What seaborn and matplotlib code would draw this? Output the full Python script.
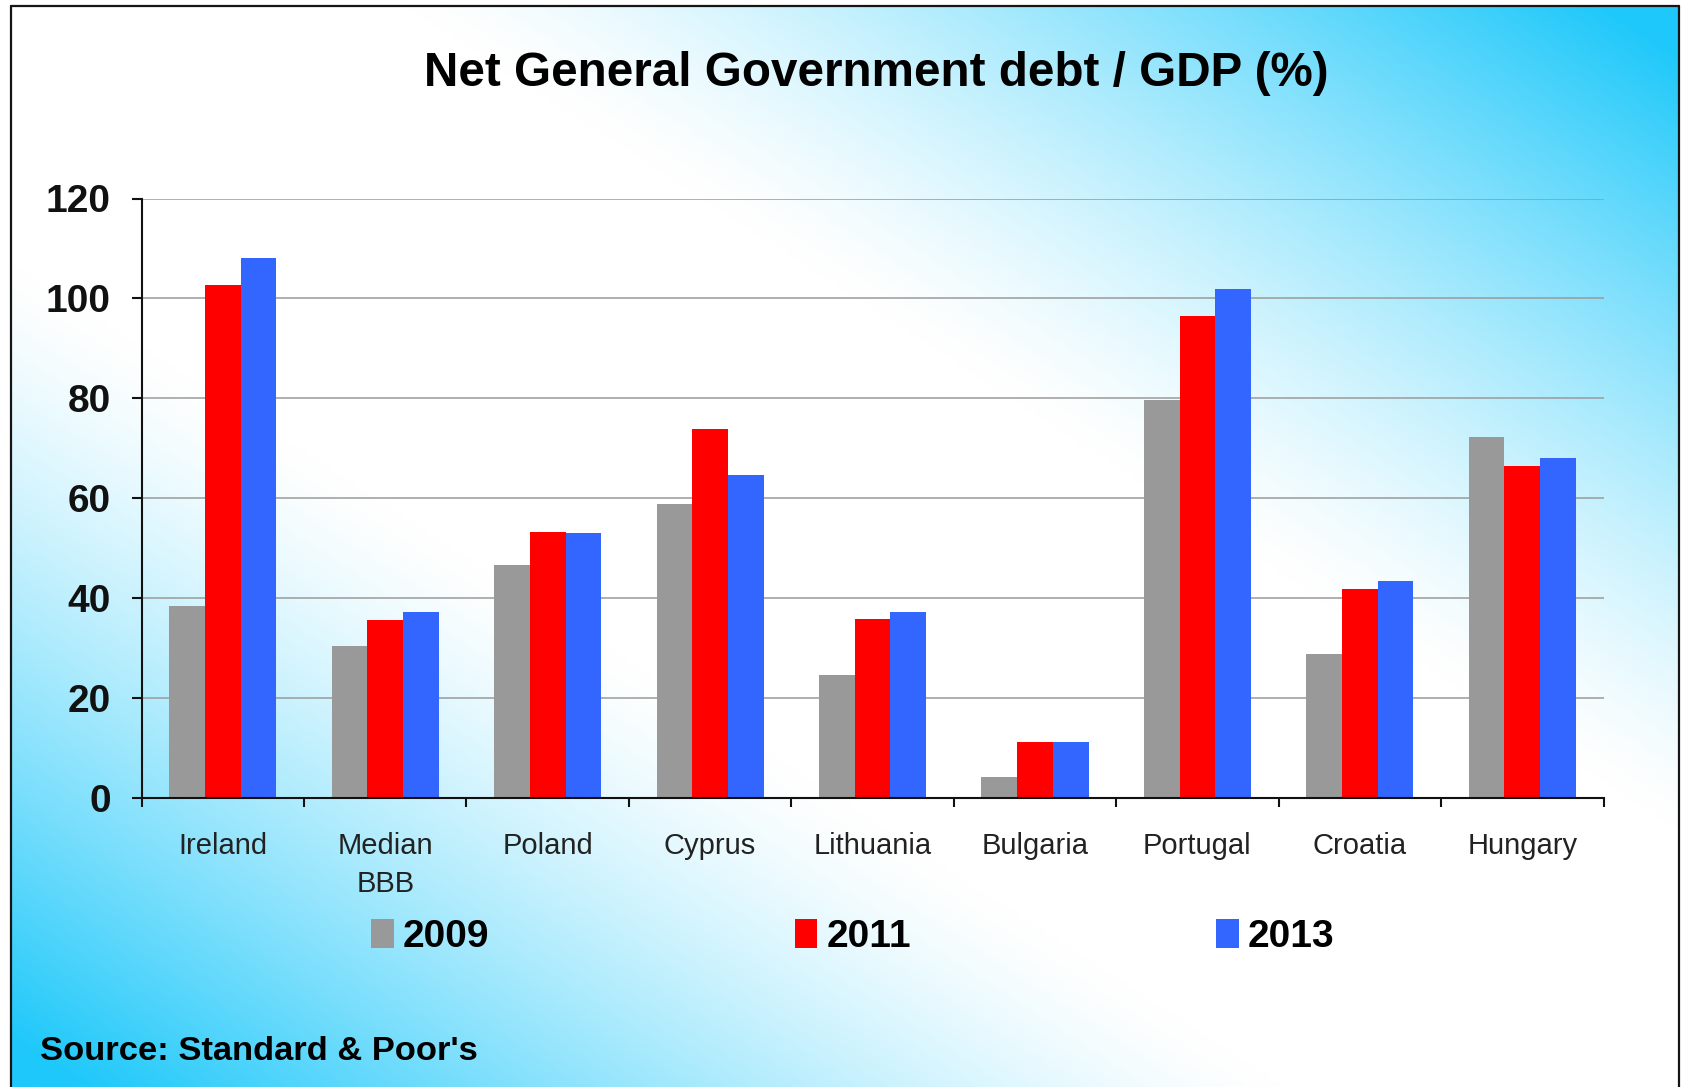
import numpy as np
import pandas as pd
import matplotlib
matplotlib.use("Agg")
import matplotlib.pyplot as plt
from matplotlib.patches import Patch
from matplotlib.lines import Line2D
import seaborn as sns

# Data
countries = ["Ireland", "Median\nBBB", "Poland", "Cyprus", "Lithuania",
             "Bulgaria", "Portugal", "Croatia", "Hungary"]
years = ["2009", "2011", "2013"]
debt_2009 = [38.4, 30.4, 46.7, 58.9, 24.7, 4.2, 79.6, 28.9, 72.2]
debt_2011 = [102.6, 35.6, 53.3, 73.9, 35.9, 11.3, 96.4, 41.9, 66.4]
debt_2013 = [108.1, 37.2, 53.0, 64.7, 37.2, 11.3, 101.9, 43.5, 68.0]
yticks = [0, 20, 40, 60, 80, 100, 120]

title = "Net General Government debt / GDP (%)"
source = "Source: Standard & Poor's"
colors = {"2009": "#999999", "2011": "#FF0000", "2013": "#3366FF"}

df = pd.DataFrame({
    "country": countries * 3,
    "year": [y for y in years for _ in countries],
    "value": debt_2009 + debt_2011 + debt_2013,
})

sns.set_theme(style="white")
plt.rcParams["font.family"] = ["Liberation Sans", "DejaVu Sans"]

W, H = 1682, 1087
fig = plt.figure(figsize=(W / 100, H / 100), dpi=100)
fig.patch.set_facecolor("white")

# Diagonal two-colour background inside the frame
bx0, bx1, by0 = 11, 1679, 6
bg = fig.add_axes([bx0 / W, 0, (bx1 - bx0) / W, (H - by0) / H])
gx = np.linspace(0, 1, 400)
gy = np.linspace(0, 1, 260)
XX, YY = np.meshgrid(gx, gy)
u = np.abs(XX - YY)
f = np.clip((u - 0.24) / 0.72, 0, 1) ** 1.3
cyan = np.array([30, 200, 250]) / 255.0
white = np.array([1.0, 1.0, 1.0])
img = white[None, None, :] * (1 - f[..., None]) + cyan[None, None, :] * f[..., None]
bg.imshow(img, aspect="auto", extent=[0, 1, 1, 0], interpolation="bilinear")
bg.set_axis_off()
bg.set_zorder(0)

# Frame lines
fl = dict(color="#151515", linewidth=1.6, transform=fig.transFigure)
fig.add_artist(Line2D([bx0 / W, bx0 / W], [0, 1 - by0 / H], **fl))
fig.add_artist(Line2D([bx0 / W, bx1 / W], [1 - by0 / H, 1 - by0 / H], **fl))
fig.add_artist(Line2D([bx1 / W, bx1 / W], [0, 1 - by0 / H], **fl))

# Main chart
ax = fig.add_axes([141.6 / W, 1 - 798 / H, (1603.5 - 141.6) / W, (798 - 198.5) / H])
ax.set_zorder(1)
ax.patch.set_alpha(0)
sns.barplot(data=df, x="country", y="value", hue="year", order=countries,
            hue_order=years, palette=colors, width=0.66, gap=0, saturation=1,
            linewidth=0, legend=False, ax=ax)

ax.set_xlim(-0.5, len(countries) - 0.5)
ax.set_ylim(0, 120)
ax.set_yticks(yticks)
ax.set_yticklabels([str(v) for v in yticks], fontsize=28, fontweight="bold",
                   color="#111111")
ax.set_xlabel("")
ax.set_ylabel("")
ax.yaxis.grid(True, color="#9a9a9a", linewidth=1.1)
ax.xaxis.grid(False)
ax.set_axisbelow(True)

for side in ["top", "right"]:
    ax.spines[side].set_visible(False)
for side in ["left", "bottom"]:
    ax.spines[side].set_color("#111111")
    ax.spines[side].set_linewidth(1.5)

ax.tick_params(axis="y", direction="out", length=7.2, width=1.5,
               color="#111111", pad=15, left=True)
ax.set_xticks(range(len(countries)))
ax.set_xticklabels(countries, fontsize=21, color="#222222")
ax.tick_params(axis="x", which="major", length=0, pad=24.5)
ax.set_xticks(np.arange(-0.5, len(countries), 1.0), minor=True)
ax.tick_params(axis="x", which="minor", direction="out", length=6.5,
               width=1.5, color="#111111", bottom=True)
for lab in ax.get_xticklabels():
    lab.set_linespacing(1.45)

# Title and source
fig.text(0.521, 1 - 85.5 / H, title, ha="center", va="baseline",
         fontsize=34.3, fontweight="bold", color="#000000")
fig.text(39.7 / W, 1 - 1059.5 / H, source, ha="left", va="baseline",
         fontsize=24.8, fontweight="bold", color="#000000")

# Legend
handles = [Patch(facecolor=colors[y], edgecolor="none", label=y) for y in years]
leg = fig.legend(handles=handles, loc="center", bbox_to_anchor=(0.507, 1 - 937 / H),
                 ncol=3, frameon=False, prop={"size": 28, "weight": "bold"},
                 handlelength=0.58, handleheight=0.77, handletextpad=0.23,
                 columnspacing=7.86, borderpad=0, borderaxespad=0)
for t in leg.get_texts():
    t.set_color("#000000")

fig.savefig("out.png", dpi=100)
